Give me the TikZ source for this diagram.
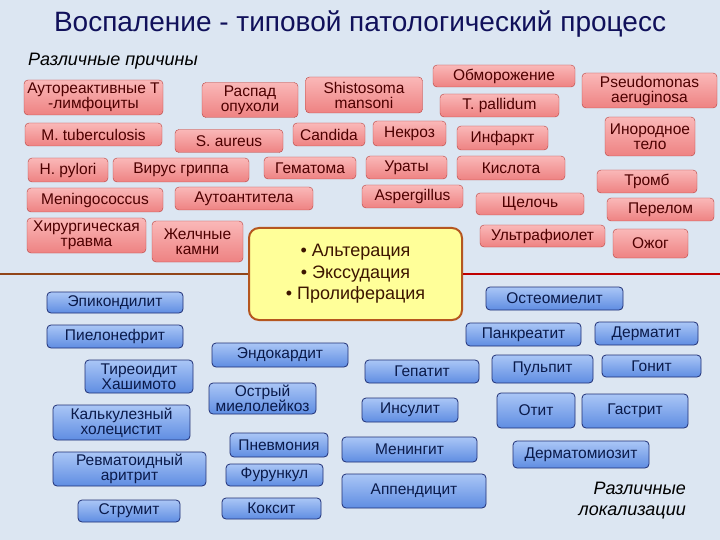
\documentclass[tikz,border=0pt]{standalone}
\usepackage{fontspec}
\setmainfont{Liberation Sans}

\definecolor{slidebg}{HTML}{DCE6F2}
\definecolor{causetop}{HTML}{FAB8B8}
\definecolor{causebot}{HTML}{EE8282}
\definecolor{causeline}{HTML}{B8403C}
\definecolor{causetext}{HTML}{4D0000}
\definecolor{sitetop}{HTML}{AAC6F6}
\definecolor{sitebot}{HTML}{5F8DE2}
\definecolor{siteline}{HTML}{1F2F75}
\definecolor{sitetext}{HTML}{0A1A4A}
\definecolor{coreline}{HTML}{B5561F}
\definecolor{corefill}{HTML}{FFFF99}
\definecolor{coretext}{HTML}{3D1500}
\definecolor{titletext}{HTML}{10105A}

\newcommand{\boxfont}{\fontsize{15.5}{15}\selectfont}
\newcommand{\corefont}{\fontsize{18}{21.5}\selectfont}

\begin{document}
\begin{tikzpicture}[
  x=1pt, y=-1pt,
  cause/.style 2 args={draw=causeline, top color=causetop, bottom color=causebot,
    rounded corners=4pt, inner sep=0pt, align=center, text=causetext,
    font=\boxfont, minimum width=#1pt, minimum height=#2pt},
  site/.style 2 args={draw=siteline, thick, top color=sitetop, bottom color=sitebot,
    rounded corners=4pt, inner sep=0pt, align=center, text=sitetext,
    font=\boxfont, minimum width=#1pt, minimum height=#2pt},
  caption/.style={font=\fontsize{18}{21}\selectfont\itshape, inner sep=0pt}
]
  \useasboundingbox (0,0) rectangle (720,540);
  \fill[slidebg] (0,0) rectangle (720,540);

  % Title
  \node[font=\fontsize{28}{30}\selectfont, text=titletext] (title) at (360,24)
    {Воспаление - типовой патологический процесс};
  \node[caption, anchor=west] (causes) at (28,61) {Различные причины};

  % Central box
  \node[draw=coreline, fill=corefill, line width=2pt, rounded corners=10pt,
    minimum width=213pt, minimum height=92pt, align=center, text=coretext,
    font=\corefont] (core) at (355.5,274)
    {• Альтерация\\• Экссудация\\• Пролиферация};
  \coordinate (lend) at (0,274);
  \coordinate (rend) at (720,274);
  \draw[line width=2pt, draw=coreline!80!black] (core.west) -- (lend);
  \draw[line width=2pt, draw=red!75!black] (core.east) -- (rend);

  % Causes
  \node[cause={139}{35}] (autot) at (93.5,97.5) {Аутореактивные Т\\-лимфоциты};
  \node[cause={96}{35}] (tumor) at (250,100) {Распад\\опухоли};
  \node[cause={117}{36}] (shist) at (364,95) {Shistosoma\\mansoni};
  \node[cause={142}{22}] (frost) at (504,76) {Обморожение};
  \node[cause={119}{23}] (pallid) at (499.5,105.5) {T. pallidum};
  \node[cause={135}{35}] (pseud) at (649.5,90.5) {Pseudomonas\\aeruginosa};
  \node[cause={137}{23}] (mtb) at (93.5,134.5) {M. tuberculosis};
  \node[cause={108}{23}] (saur) at (229,141) {S. aureus};
  \node[cause={72}{23}] (cand) at (329,134.5) {Candida};
  \node[cause={73}{25}] (necr) at (409.5,133.5) {Некроз};
  \node[cause={91}{24}] (infarct) at (502.5,138) {Инфаркт};
  \node[cause={90}{39}] (foreign) at (650,136.5) {Инородное\\тело};
  \node[cause={80}{24}] (hpyl) at (68,170) {H. pylori};
  \node[cause={136}{24}] (flu) at (181,170) {Вирус гриппа};
  \node[cause={92}{22}] (hemat) at (310,168) {Гематома};
  \node[cause={81}{23}] (urate) at (406.5,167.5) {Ураты};
  \node[cause={108}{24}] (acid) at (511,168) {Кислота};
  \node[cause={100}{23}] (thromb) at (647,181.5) {Тромб};
  \node[cause={136}{24}] (mening) at (95,200) {Meningococcus};
  \node[cause={138}{23}] (autoab) at (244,198.5) {Аутоантитела};
  \node[cause={101}{23}] (asperg) at (412.5,196.5) {Aspergillus};
  \node[cause={108}{22}] (alkali) at (530,204) {Щелочь};
  \node[cause={107}{23}] (fract) at (660.5,209.5) {Перелом};
  \node[cause={119}{35}] (surg) at (86.5,235.5) {Хирургическая\\травма};
  \node[cause={91}{41}] (gall) at (197.5,241.5) {Желчные\\камни};
  \node[cause={125}{22}] (uv) at (542.5,236) {Ультрафиолет};
  \node[cause={75}{29}] (burn) at (650.5,243.5) {Ожог};

  % Sites
  \node[site={136}{21}] (epic) at (115,302.5) {Эпикондилит};
  \node[site={136}{23}] (pyel) at (115,336.5) {Пиелонефрит};
  \node[site={136}{24}] (endo) at (280,355) {Эндокардит};
  \node[site={108}{33}] (thyr) at (139,376.5) {Тиреоидит\\Хашимото};
  \node[site={107}{31}] (leuk) at (262.5,398.5) {Острый\\миелолейкоз};
  \node[site={137}{35}] (chole) at (121.5,422.5) {Калькулезный\\холецистит};
  \node[site={98}{24}] (pneum) at (279,445) {Пневмония};
  \node[site={153}{34}] (rheum) at (129.5,469) {Ревматоидный\\аритрит};
  \node[site={97}{22}] (furunc) at (274.5,475) {Фурункул};
  \node[site={102}{22}] (strum) at (129,511) {Струмит};
  \node[site={99}{21}] (coxit) at (271.5,508.5) {Коксит};
  \node[site={137}{23}] (osteo) at (554.5,298.5) {Остеомиелит};
  \node[site={115}{23}] (pancr) at (523.5,334.5) {Панкреатит};
  \node[site={103}{23}] (derm) at (646.5,333.5) {Дерматит};
  \node[site={114}{23}] (hepat) at (422,371.5) {Гепатит};
  \node[site={101}{28}] (pulp) at (542.5,369) {Пульпит};
  \node[site={99}{22}] (gonit) at (651.5,366) {Гонит};
  \node[site={96}{24}] (insul) at (410,410) {Инсулит};
  \node[site={78}{35}] (otit) at (536,410.5) {Отит};
  \node[site={106}{34}] (gastr) at (635,411) {Гастрит};
  \node[site={135}{25}] (menin) at (409.5,449.5) {Менингит};
  \node[site={144}{34}] (append) at (414,491) {Аппендицит};
  \node[site={136}{27}] (dmyo) at (581,454.5) {Дерматомиозит};

  \node[caption, anchor=east, align=right] (sites) at (686,501)
    {Различные\\локализации};
\end{tikzpicture}
\end{document}
